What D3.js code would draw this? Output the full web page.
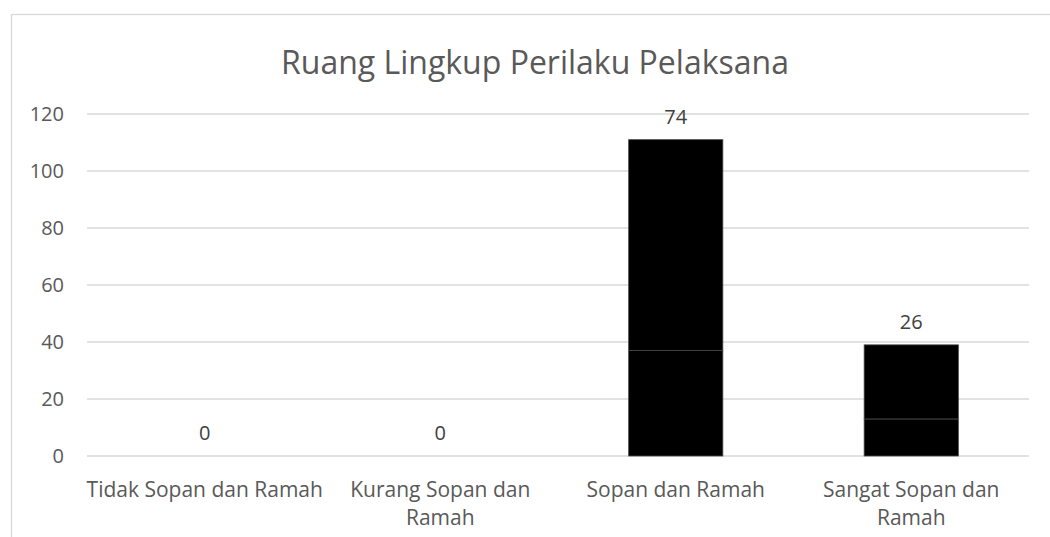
<!DOCTYPE html>
<html>
<head>
<meta charset="utf-8">
<script src="https://cdn.jsdelivr.net/npm/d3@7"></script>
<style>
  body { margin: 0; background: #fff; }
  svg text { font-family: "Open Sans", Lato, sans-serif; fill: #595959; }
</style>
</head>
<body>
<svg id="chart" width="1050" height="537"></svg>
<script>
// chart data
var categories = ["Tidak Sopan dan Ramah", "Kurang Sopan dan Ramah", "Sopan dan Ramah", "Sangat Sopan dan Ramah"];
var seriesBottom = [0, 0, 37, 13];
var seriesTop = [0, 0, 74, 26];
var yTicks = [0, 20, 40, 60, 80, 100, 120];
var title = "Ruang Lingkup Perilaku Pelaksana";

var svg = d3.select("#chart");
var width = +svg.attr("width"),
  height = +svg.attr("height");

// chart area border (runs off the right / bottom edge)
svg.append("rect")
  .attr("x", 11.5).attr("y", 14.5)
  .attr("width", 1100).attr("height", 600)
  .attr("fill", "none")
  .attr("stroke", "#d9d9d9")
  .attr("stroke-width", 1.3);

var plotLeft = 87, plotRight = 1029, plotTop = 114, plotBottom = 456;

var x = d3.scaleBand()
  .domain(categories)
  .range([plotLeft, plotRight])
  .paddingInner(0.6)
  .paddingOuter(0.3);

var y = d3.scaleLinear()
  .domain([0, 120])
  .range([plotBottom, plotTop]);

// gridlines
svg.append("g")
  .selectAll("line")
  .data(yTicks)
  .enter()
  .append("line")
  .attr("x1", plotLeft).attr("x2", plotRight)
  .attr("y1", function (d) { return y(d) }).attr("y2", function (d) { return y(d) })
  .attr("stroke", "#d9d9d9")
  .attr("stroke-width", 1.3);

// y axis labels
svg.append("g")
  .selectAll("text")
  .data(yTicks)
  .enter()
  .append("text")
  .attr("x", 64)
  .attr("y", function (d) { return y(d) })
  .attr("dy", "0.35em")
  .attr("text-anchor", "end")
  .style("font-size", "20px")
  .text(function (d) { return d });

// stacked bars
var rows = categories.map(function (c, i) { return { cat: c, a: seriesBottom[i], b: seriesTop[i] } });
var stack = d3.stack().keys(["a", "b"])(rows);

svg.append("g")
  .selectAll("g")
  .data(stack)
  .enter()
  .append("g")
  .selectAll("rect")
  .data(function (s) { return s.map(function (d) { return { cat: d.data.cat, y0: d[0], y1: d[1] } }) })
  .enter()
  .append("rect")
  .filter(function (d) { return d.y1 > d.y0 })
  .attr("x", function (d) { return x(d.cat) })
  .attr("width", x.bandwidth())
  .attr("y", function (d) { return y(d.y1) })
  .attr("height", function (d) { return y(d.y0) - y(d.y1) })
  .attr("fill", "#000")
  .attr("stroke", "#4a4a4a")
  .attr("stroke-width", 0.8);

// data labels (top series)
svg.append("g")
  .selectAll("text")
  .data(rows)
  .enter()
  .append("text")
  .attr("x", function (d) { return x(d.cat) + x.bandwidth() / 2 })
  .attr("y", function (d) { return y(d.a + d.b) - 23 })
  .attr("dy", "0.35em")
  .attr("text-anchor", "middle")
  .style("font-size", "20px")
  .style("fill", "#404040")
  .text(function (d) { return d.b });

// category labels, wrapped to the band width
var bandStep = x.step();
svg.append("g")
  .selectAll("text")
  .data(categories)
  .enter()
  .append("text")
  .attr("text-anchor", "middle")
  .style("font-size", "21px")
  .each(function (d) {
    var t = d3.select(this);
    var cx = x(d) + x.bandwidth() / 2;
    var words = d.split(" ");
    var lines = [], line = [];
    var probe = t.append("tspan");
    words.forEach(function (w) {
      line.push(w);
      probe.text(line.join(" "));
      if (probe.node().getComputedTextLength() > bandStep + 3 && line.length > 1) {
        line.pop();
        lines.push(line.join(" "));
        line = [w];
      }
    });
    lines.push(line.join(" "));
    probe.remove();
    lines.forEach(function (l, i) {
      t.append("tspan").attr("x", cx).attr("y", 497 + i * 28).text(l);
    });
  });

// title
svg.append("text")
  .attr("x", 535)
  .attr("y", 74)
  .attr("text-anchor", "middle")
  .style("font-size", "32px")
  .text(title);
</script>
</body>
</html>
